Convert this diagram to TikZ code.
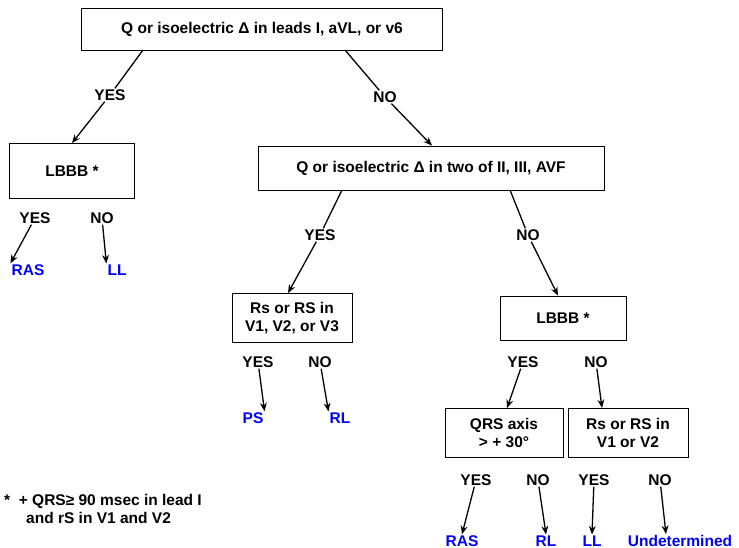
\documentclass[tikz,border=0pt]{standalone}
\usepackage{fontspec}
\setmainfont{Liberation Sans}
\usetikzlibrary{positioning, arrows.meta}
\begin{document}
\begin{tikzpicture}[x=1pt, y=-1pt,
    font=\fontsize{15.5}{18}\selectfont\bfseries,
    box/.style={draw, line width=0.8pt, align=center, inner sep=0pt},
    lbl/.style={inner sep=1pt},
    res/.style={inner sep=1pt, text=blue},
    arrow/.style={-{Stealth[length=3mm, width=2.4mm]}, line width=1.3pt}
]
    \useasboundingbox (0,0) rectangle (739,548);

    % Decision boxes
    \node[box, minimum width=361pt, minimum height=42pt] (top) at (262,29) {Q or isoelectric Δ in leads I, aVL, or v6};
    \node[box, minimum width=125pt, minimum height=55pt] (lbbbL) at (72,171) {LBBB *};
    \node[box, minimum width=346pt, minimum height=44pt] (mid) at (431,168) {Q or isoelectric Δ in two of II, III, AVF};
    \node[box, minimum width=120pt, minimum height=49pt] (rs) at (292,318) {Rs or RS in\\V1, V2, or V3};
    \node[box, minimum width=126pt, minimum height=44pt] (lbbbR) at (563,318) {LBBB *};
    \node[box, minimum width=118pt, minimum height=49pt] (qrs) at (504,433) {QRS axis\\> + 30°};
    \node[box, minimum width=120pt, minimum height=49pt] (rsv) at (628,433) {Rs or RS in\\V1 or V2};

    % Top level
    \node[lbl, fill=white] (yesA) at (110,95) {YES};
    \node[lbl, fill=white] (noA) at (385,97) {NO};
    \draw[line width=1.3pt] (143,50) -- (yesA);
    \draw[arrow] (yesA) -- (lbbbL.north);
    \draw[line width=1.3pt] (345,50) -- (noA);
    \draw[arrow] (noA) -- (mid.north -| 432,0);

    % Left LBBB
    \node[lbl] (yesB) at (35,218) {YES};
    \node[lbl] (noB) at (102,218) {NO};
    \node[res] (rasA) at (28,270) {RAS};
    \node[res] (llA) at (117,270) {LL};
    \draw[arrow] (yesB) -- (rasA.north west);
    \draw[arrow] (noB) -- (llA.north west);

    % Middle level
    \node[lbl, fill=white] (yesC) at (320,235) {YES};
    \node[lbl, fill=white] (noC) at (528,235) {NO};
    \draw[line width=1.3pt] (342,190) -- (yesC);
    \draw[arrow] (yesC) -- (rs.north -| 288,0);
    \draw[line width=1.3pt] (510,190) -- (noC);
    \draw[arrow] (noC) -- (lbbbR.north -| 558,0);

    % Rs or RS in V1, V2, or V3
    \node[lbl] (yesD) at (258,362) {YES};
    \node[lbl] (noD) at (320,362) {NO};
    \node[res] (ps) at (253,418) {PS};
    \node[res] (rlA) at (340,418) {RL};
    \draw[arrow] (yesD) -- (ps.north east);
    \draw[arrow] (noD) -- (rlA.north west);

    % Right LBBB
    \node[lbl] (yesE) at (523,362) {YES};
    \node[lbl] (noE) at (596,362) {NO};
    \draw[arrow] (yesE) -- (qrs.north -| 507,0);
    \draw[arrow] (noE) -- (rsv.north -| 602,0);

    % QRS axis
    \node[lbl] (yesF) at (476,480) {YES};
    \node[lbl] (noF) at (538,480) {NO};
    \node[res] (rasB) at (462,541) {RAS};
    \node[res] (rlB) at (546,541) {RL};
    \draw[arrow] (yesF) -- (rasB.north);
    \draw[arrow] (noF) -- (rlB.north);

    % Rs or RS in V1 or V2
    \node[lbl] (yesG) at (594,480) {YES};
    \node[lbl] (noG) at (660,480) {NO};
    \node[res] (llB) at (592,541) {LL};
    \node[res] (und) at (680,541) {Undetermined};
    \draw[arrow] (yesG) -- (llB.north);
    \draw[arrow] (noG) -- (und.north -| 666,0);

    % Footnote
    \node[anchor=north west, align=left, inner sep=0pt] (note) at (4,494)
        {*\ \ + QRS≥ 90 msec in lead I\\\hspace{22pt}and rS in V1 and V2};
\end{tikzpicture}
\end{document}
